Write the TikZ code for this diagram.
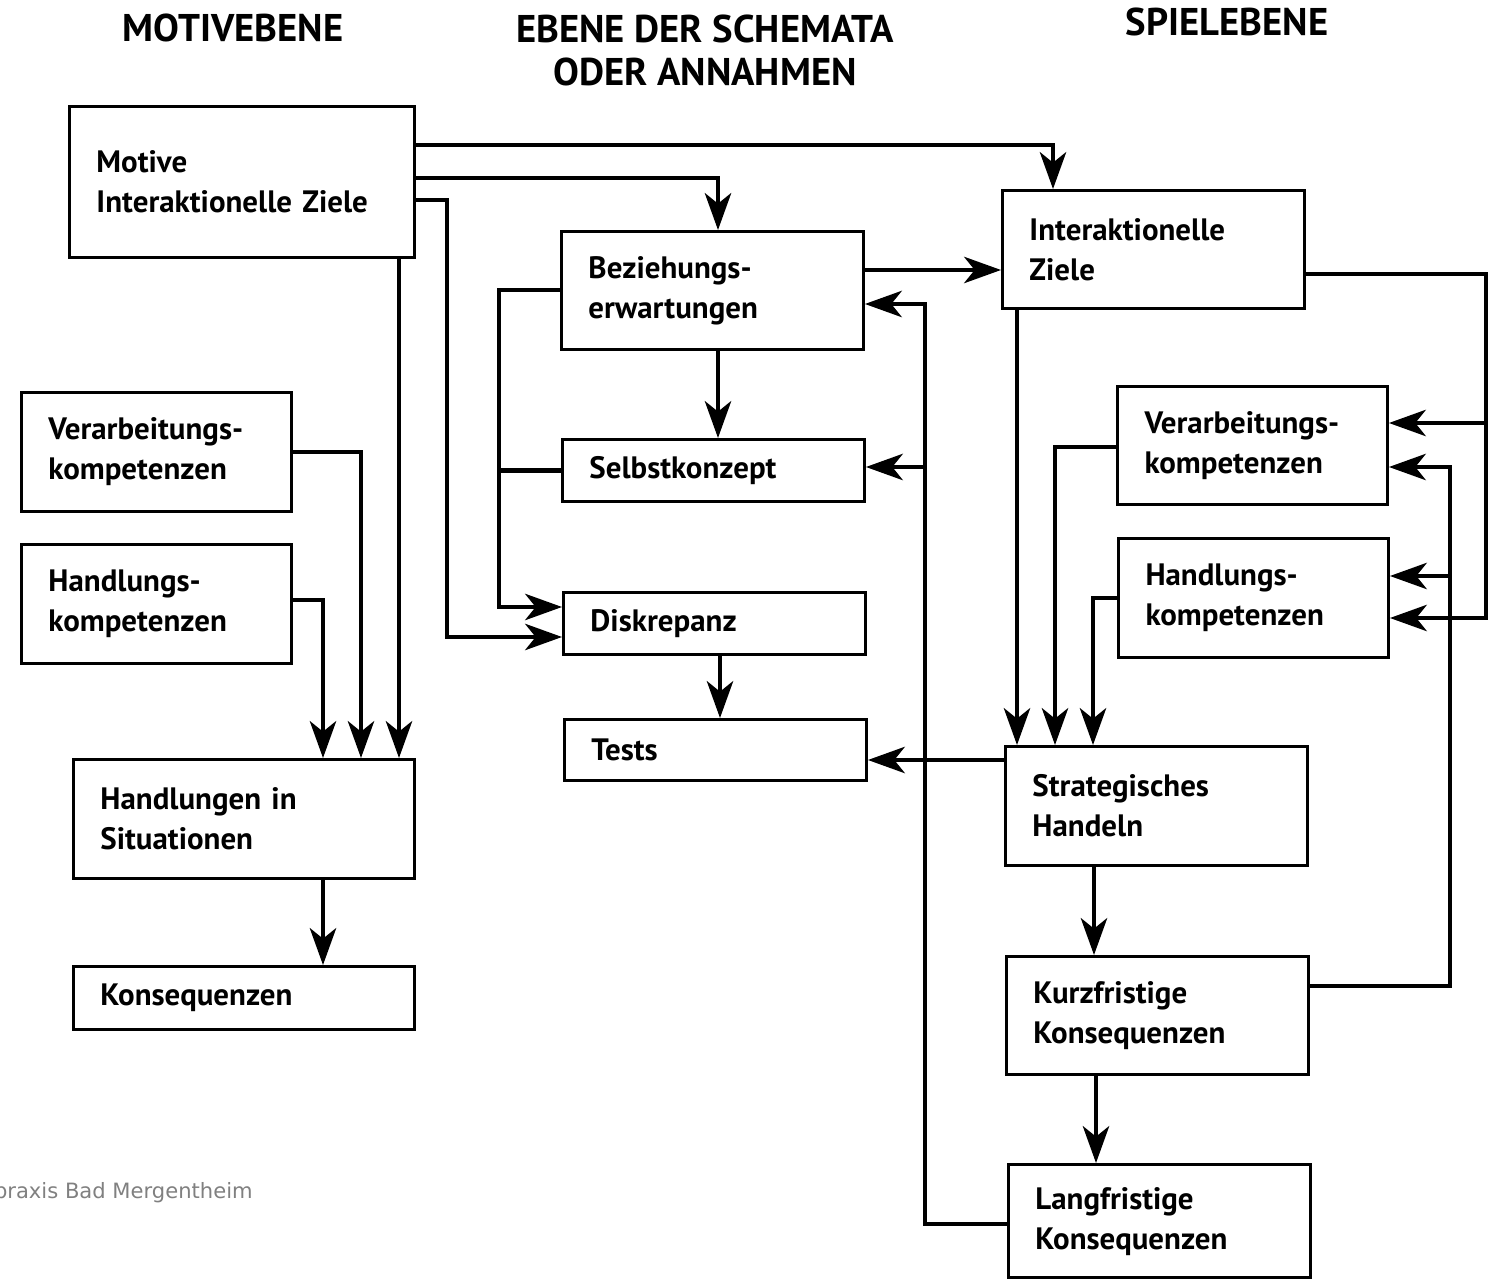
\documentclass[tikz,border=0pt]{standalone}
\usepackage{fontspec}
\setmainfont{PT Sans}
\newfontfamily\footfont{DejaVu Sans}
\usetikzlibrary{arrows.meta}
\tikzset{
  box/.style={draw, line width=1.7pt, fill=white, anchor=north west, align=left,
    inner xsep=0.54cm, inner ysep=0pt, font=\fontsize{17.6}{22.8}\selectfont\bfseries},
  hdr/.style={font=\fontsize{22}{24.5}\selectfont\bfseries, align=center, inner sep=0pt},
  conn/.style={line width=2.3pt},
  arr/.style={conn, -{Stealth[length=21pt,width=15pt,inset=6pt]}},
}
\begin{document}
\begin{tikzpicture}[x=0.02cm, y=-0.02cm]
\useasboundingbox (0,0) rectangle (1488,1280);

% headers
\node[hdr] (h1) at (233,28) {MOTIVEBENE};
\node[hdr] (h2) at (705,50) {EBENE DER SCHEMATA\\ODER ANNAHMEN};
\node[hdr] (h3) at (1227,22) {SPIELEBENE};

% boxes
\node[box, text width=5.82cm, minimum height=3.02cm] (motive) at (68,105) {Motive\\Interaktionelle Ziele};
\node[box, text width=4.96cm, minimum height=2.36cm] (bez) at (560,230) {Beziehungs-\\erwartungen};
\node[box, text width=4.96cm, minimum height=2.36cm] (iz) at (1001,189) {Interaktionelle\\Ziele};
\node[box, text width=4.32cm, minimum height=2.38cm] (verL) at (20,391) {Verarbeitungs-\\kompetenzen};
\node[box, text width=4.32cm, minimum height=2.38cm] (hanL) at (20,543) {Handlungs-\\kompetenzen};
\node[box, text width=4.96cm, minimum height=1.24cm] (selbst) at (561,438) {Selbstkonzept};
\node[box, text width=4.96cm, minimum height=1.24cm] (disk) at (562,591) {Diskrepanz};
\node[box, text width=4.96cm, minimum height=1.22cm] (tests) at (563,718) {Tests};
\node[box, text width=5.74cm, minimum height=2.38cm] (handS) at (72,758) {Handlungen in\\Situationen};
\node[box, text width=5.74cm, minimum height=1.26cm] (kons) at (72,965) {Konsequenzen};
\node[box, text width=4.32cm, minimum height=2.36cm] (verR) at (1116,385) {Verarbeitungs-\\kompetenzen};
\node[box, text width=4.32cm, minimum height=2.38cm] (hanR) at (1117,537) {Handlungs-\\kompetenzen};
\node[box, text width=4.96cm, minimum height=2.38cm] (strat) at (1004,745) {Strategisches\\Handeln};
\node[box, text width=4.96cm, minimum height=2.36cm] (kurz) at (1005,955) {Kurzfristige\\Konsequenzen};
\node[box, text width=4.96cm, minimum height=2.27cm] (lang) at (1007,1163) {Langfristige\\Konsequenzen};

% footer
\node[font=\footfont\fontsize{12}{14}\selectfont, text=black!50, anchor=east, inner sep=0pt] (foot) at (253,1193) {praxis Bad Mergentheim};

% junction coordinates
\coordinate (jA) at (447,637);
\coordinate (jB) at (499,607);
\coordinate (jC) at (925,304);
\coordinate (jC2) at (925,467);
\coordinate (jD) at (1486,618);
\coordinate (jD2) at (1486,423);
\coordinate (jE) at (1450,467);
\coordinate (jE2) at (1450,576);

% Motive level
\draw[arr] (motive.east |- 0,145) -| (iz.north -| 1053,0);
\draw[arr] (motive.east |- 0,178) -| (bez.north -| 718,0);
\draw[arr] (motive.east |- 0,200) -| (jA) -- (disk.west |- jA);
\draw[arr] (motive.south -| 399,0) -- (handS.north -| 399,0);
\draw[arr] (verL.east |- 0,452) -| (handS.north -| 361,0);
\draw[arr] (hanL.east |- 0,600) -| (handS.north -| 323,0);
\draw[arr] (handS.south -| 323,0) -- (kons.north -| 323,0);

% Schema level
\draw[arr] (bez.west |- 0,290) -| (jB) -- (disk.west |- jB);
\draw[conn] (selbst.west) -- (selbst.west -| jB);
\draw[arr] (bez.south -| 718,0) -- (selbst.north -| 718,0);
\draw[arr] (disk.south -| 720,0) -- (tests.north -| 720,0);
\draw[arr] (bez.east |- 0,270) -- (iz.west |- 0,270);
\draw[arr] (lang.west |- 0,1224) -| (jC) -- (bez.east |- jC);
\draw[arr] (jC2) -- (selbst.east |- jC2);
\draw[arr] (strat.west |- 0,760) -- (tests.east |- 0,760);

% Game level
\draw[arr] (iz.south -| 1017,0) -- (strat.north -| 1017,0);
\draw[arr] (verR.west |- 0,447) -| (strat.north -| 1055,0);
\draw[arr] (hanR.west |- 0,598) -| (strat.north -| 1093,0);
\draw[arr] (strat.south -| 1094,0) -- (kurz.north -| 1094,0);
\draw[arr] (kurz.south -| 1096,0) -- (lang.north -| 1096,0);
\draw[arr] (iz.east |- 0,274) -| (jD) -- (hanR.east |- jD);
\draw[arr] (jD2) -- (verR.east |- jD2);
\draw[arr] (kurz.east |- 0,986) -| (jE) -- (verR.east |- jE);
\draw[arr] (jE2) -- (hanR.east |- jE2);
\end{tikzpicture}
\end{document}
